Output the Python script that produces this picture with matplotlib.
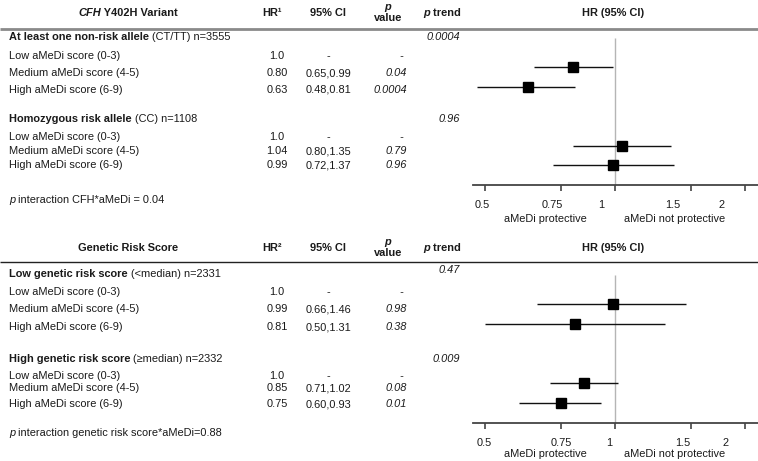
import matplotlib
matplotlib.use("Agg")
import matplotlib.pyplot as plt
import matplotlib.transforms as mtransforms

plt.rcParams['font.family'] = ['Liberation Sans', 'DejaVu Sans']

# ---- data -----------------------------------------------------------
row_labels = ["Low aMeDi score (0-3)", "Medium aMeDi score (4-5)", "High aMeDi score (6-9)"]

cfh_groups = ["At least one non-risk allele", "Homozygous risk allele"]
cfh_notes = ["(CT/TT) n=3555", "(CC) n=1108"]
cfh_hr = [[1.0, 0.80, 0.63], [1.0, 1.04, 0.99]]
cfh_lo = [[None, 0.65, 0.48], [None, 0.80, 0.72]]
cfh_hi = [[None, 0.99, 0.81], [None, 1.35, 1.37]]
cfh_p = [["-", "0.04", "0.0004"], ["-", "0.79", "0.96"]]
cfh_ptrend = ["0.0004", "0.96"]
cfh_interaction = "CFH*aMeDi = 0.04"

grs_groups = ["Low genetic risk score", "High genetic risk score"]
grs_notes = ["(<median) n=2331", "(\u2265median) n=2332"]
grs_hr = [[1.0, 0.99, 0.81], [1.0, 0.85, 0.75]]
grs_lo = [[None, 0.66, 0.50], [None, 0.71, 0.60]]
grs_hi = [[None, 1.46, 1.31], [None, 1.02, 0.93]]
grs_p = [["-", "0.98", "0.38"], ["-", "0.08", "0.01"]]
grs_ptrend = ["0.47", "0.009"]
grs_interaction = "genetic risk score*aMeDi=0.88"

tick_vals = [0.5, 0.75, 1, 1.5, 2]
tick_text = ["0.5", "0.75", "1", "1.5", "2"]

# ---- layout (pixels) --------------------------------------------------
W, H = 758, 461
FS = 7.9
TXT = '#1a1a1a'
BASE = 4  # baseline sits this many px below the row centre

fig = plt.figure(figsize=(W / 100, H / 100), dpi=100)
bg = fig.add_axes([0, 0, 1, 1])
bg.set_xlim(0, W)
bg.set_ylim(H, 0)
bg.axis('off')
renderer = fig.canvas.get_renderer()


def rich(x, y, parts, ha='left', size=FS):
    # draw runs of differently styled text one after another
    widths = []
    for s, kw in parts:
        t = bg.text(0, 0, s, fontsize=size, **kw)
        widths.append(t.get_window_extent(renderer).width)
        t.remove()
    total = sum(widths)
    if ha == 'center':
        x = x - total / 2
    elif ha == 'right':
        x = x - total
    for (s, kw), w in zip(parts, widths):
        bg.text(x, y + BASE, s, fontsize=size, va='baseline', ha='left', color=TXT, **kw)
        x += w


B = dict(weight='bold')
BI = dict(weight='bold', style='italic')
N = dict()
I = dict(style='italic')

X_LABEL = 9
X_HR = 277
X_CI = 328
X_P = 407
X_PT = 460
X_PH = 388
X_PTH = 442
X_FOREST = 613


def panel(top, title_parts, hr_head, groups, notes, hr, lo, hi, pv, ptr, inter,
          line_color, line_w, text_rows, marker_rows, group_rows, ptrend_rows,
          inter_y, axis_y, vline_top, tick_offsets, head_y, under_y):
    # header
    rich(128, head_y, title_parts, ha='center')
    rich(X_HR - 5, head_y, [(hr_head, B)], ha='center')
    rich(X_CI, head_y, [("95% CI", B)], ha='center')
    rich(X_PH, head_y - 6, [("p", BI)], ha='center')
    rich(X_PH, head_y + 5, [("value", B)], ha='center')
    rich(X_PTH, head_y, [("p", BI), (" trend", B)], ha='center')
    rich(X_FOREST, head_y, [("HR (95% CI)", B)], ha='center')
    bg.plot([0, W], [top, top], color=line_color, lw=line_w, solid_capstyle='butt')

    for g in range(2):
        rich(X_LABEL, group_rows[g], [(groups[g], B), (" " + notes[g], N)])
        rich(X_PT, ptrend_rows[g], [(ptr[g], I)], ha='right')
        for r in range(3):
            y = text_rows[g][r]
            rich(X_LABEL, y, [(row_labels[r], N)])
            v = hr[g][r]
            rich(X_HR, y, [("1.0" if lo[g][r] is None else f"{v:.2f}", N)], ha='center')
            ci = "-" if lo[g][r] is None else f"{lo[g][r]:.2f},{hi[g][r]:.2f}"
            rich(X_CI, y, [(ci, N)], ha='center')
            rich(X_P if pv[g][r] != "-" else X_P - 4, y, [(pv[g][r], I)], ha='right')

    rich(X_LABEL, inter_y, [("p", I), (" interaction " + inter, N)])

    # forest axes in pixel coordinates
    ax = fig.add_axes([473 / W, 1 - axis_y / H, (W - 473) / W, (axis_y - top - 4) / H])
    ax.set_xscale('log')
    ax.set_xlim(0.470, 2.149)
    ax.set_ylim(axis_y, top + 4)
    ax.patch.set_alpha(0)
    for s in ['top', 'right', 'left']:
        ax.spines[s].set_visible(False)
    ax.spines['bottom'].set_color('#444444')
    ax.spines['bottom'].set_linewidth(1.3)
    ax.set_yticks([])
    ax.vlines(1, vline_top, axis_y, color='#b5b5b5', lw=1.0, zorder=1)
    for g in range(2):
        for r in range(3):
            if lo[g][r] is None:
                continue
            y = marker_rows[g][r]
            ax.hlines(y, lo[g][r], hi[g][r], color='#111111', lw=1.0, zorder=2)
            ax.plot(hr[g][r], y, 's', color='#000000', ms=7.4, zorder=3)
    ax.set_xticks(tick_vals)
    ax.set_xticks([], minor=True)
    ax.set_xticklabels(tick_text, fontsize=FS, color=TXT)
    ax.tick_params(axis='x', direction='out', length=4, width=1.2, color='#444444', pad=7)
    for lab, off in zip(ax.get_xticklabels(), tick_offsets):
        lab.set_transform(lab.get_transform() +
                          mtransforms.ScaledTranslation(off / 100, 0, fig.dpi_scale_trans))
    rich(545, under_y, [("aMeDi protective", N)], ha='center')
    rich(675, under_y, [("aMeDi not protective", N)], ha='center')


panel(29, [("CFH", BI), (" Y402H Variant", B)], "HR\u00b9",
      cfh_groups, cfh_notes, cfh_hr, cfh_lo, cfh_hi, cfh_p, cfh_ptrend, cfh_interaction,
      '#8a8a8a', 2.0,
      [[55, 72, 89], [136, 150, 164]], [[55, 67, 87], [136, 146, 165]],
      [36, 118], [36, 118], 199, 185, 38, [-2, -8, -13, -18, -23], 12, 218)

panel(262, [("Genetic Risk Score", B)], "HR\u00b2",
      grs_groups, grs_notes, grs_hr, grs_lo, grs_hi, grs_p, grs_ptrend, grs_interaction,
      '#222222', 1.0,
      [[291, 308, 326], [375, 387, 403]], [[291, 304, 324], [375, 383, 403]],
      [273, 358], [269, 358], 432, 423, 275, [0, 1, -5, -8, -19], 247, 453)

fig.savefig("out.png", dpi=100)
